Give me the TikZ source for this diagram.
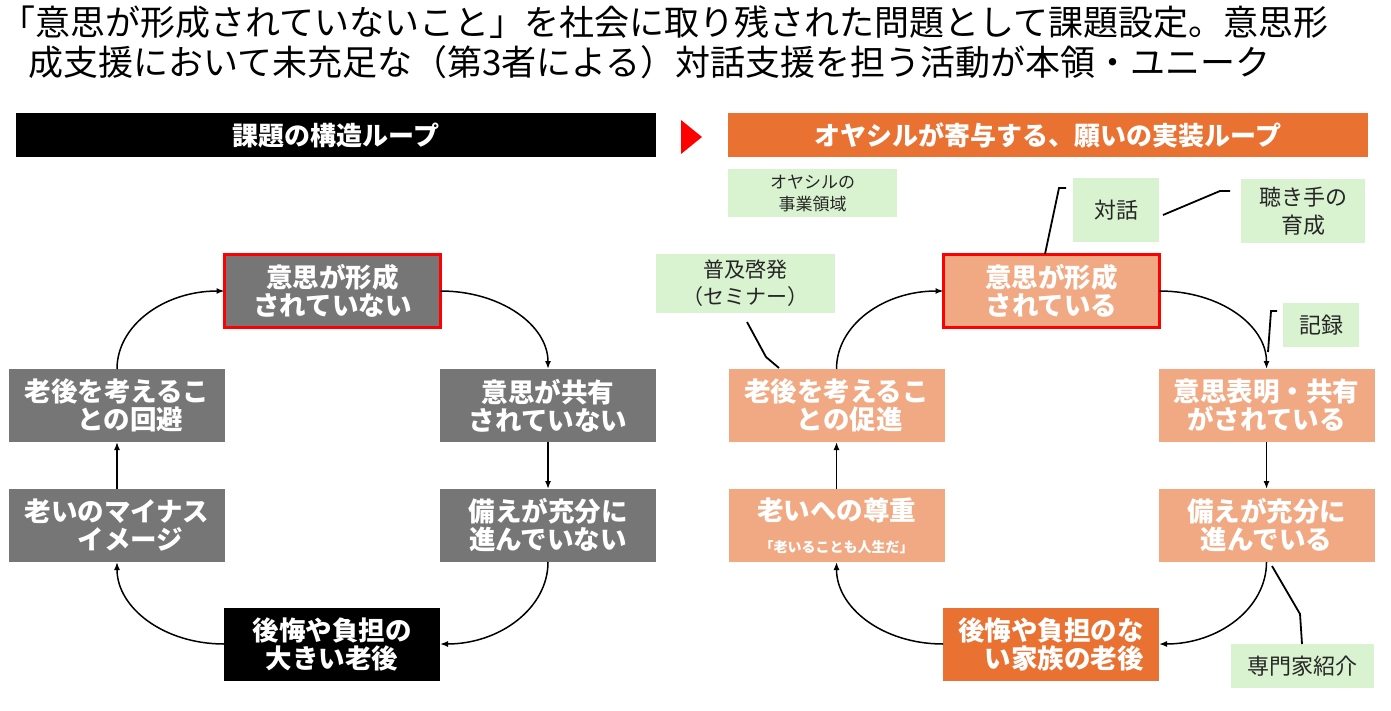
\documentclass[tikz,border=0pt]{standalone}
\usepackage{fontspec}
\setmainfont{Noto Sans CJK JP}
\usetikzlibrary{arrows.meta}

\definecolor{boxgray}{RGB}{118,118,118}
\definecolor{salmon}{RGB}{241,169,131}
\definecolor{deeporange}{RGB}{233,113,50}
\definecolor{palegreen}{RGB}{217,242,208}
\definecolor{inkgray}{RGB}{38,38,38}

\begin{document}
\begin{tikzpicture}[
  x = 1pt,
  y = -1pt,
  loopbox/.style = {
    shape = rectangle,
    minimum width = 216pt,
    minimum height = 73pt,
    inner sep = 0pt,
    outer sep = 0pt,
    align = center,
    text = white,
    font = \bfseries\fontsize{26.5}{28}\selectfont,
  },
  problem/.style = {loopbox, fill = boxgray},
  wish/.style = {loopbox, fill = salmon},
  focus/.style = {draw = red, line width = 3pt},
  header/.style = {
    minimum width = 640pt,
    minimum height = 44pt,
    inner sep = 0pt,
    text = white,
    font = \bfseries\fontsize{26}{28}\selectfont,
  },
  note/.style = {
    fill = palegreen,
    inner sep = 0pt,
    align = center,
    text = inkgray,
    font = \fontsize{22}{28}\selectfont,
  },
  title/.style = {
    anchor = base west,
    inner sep = 0pt,
    font = \fontsize{35}{40}\selectfont,
  },
  flow/.style = {
    -{Latex[length = 8pt, width = 6pt]},
    line width = 1.5pt,
  },
  callout/.style = {
    line width = 1.8pt,
  }
]
  \useasboundingbox (0, 0) rectangle (1391, 711);
  \fill[white] (0, 0) rectangle (1391, 711);

  % title
  \draw node[title] (T1) at (0, 36) {「意思が形成されていないこと」を社会に取り残された問題として課題設定。意思形};
  \draw node[title] (T2) at (28, 76) {成支援において未充足な（第3者による）対話支援を担う活動が本領・ユニーク};

  % headers
  \draw node[header, fill = black] (H1) at (336, 135.5) {課題の構造ループ};
  \draw node[header, fill = deeporange] (H2) at (1048, 135.5) {オヤシルが寄与する、願いの実装ループ};
  \fill[red] (681, 120) -- (702, 137) -- (681, 154) -- cycle;

  % problem loop
  \draw node[problem, focus] (L1) at (332.5, 291) {意思が形成\\されていない};
  \draw node[problem] (L2) at (548, 405.5) {意思が共有\\されていない};
  \draw node[problem] (L3) at (548, 525.5) {備えが充分に\\進んでいない};
  \draw node[problem, fill = black] (L4) at (332, 644) {後悔や負担の\\大きい老後};
  \draw node[problem] (L5) at (117, 525.5) {老いのマイナス\\　イメージ};
  \draw node[problem] (L6) at (117, 405.5) {老後を考えるこ\\　との回避};

  \draw[flow] (L1.east) .. controls +(60, 0) and +(0, -44) .. (L2.north);
  \draw[flow] (L2) -- (L3);
  \draw[flow] (L3.south) .. controls +(0, 46) and +(60, 0) .. (L4.east);
  \draw[flow] (L4.west) .. controls +(-60, 0) and +(0, 46) .. (L5.south);
  \draw[flow] (L5) -- (L6);
  \draw[flow] (L6.north) .. controls +(0, -44) and +(-60, 0) .. (L1.west);

  % wish loop
  \draw node[wish, focus] (R1) at (1051.5, 291) {意思が形成\\されている};
  \draw node[wish] (R2) at (1266.5, 405.5) {意思表明・共有\\がされている};
  \draw node[wish] (R3) at (1266.5, 525.5) {備えが充分に\\進んでいる};
  \draw node[wish, fill = deeporange] (R4) at (1051, 644) {後悔や負担のな\\　い家族の老後};
  \draw node[wish] (R5) at (836.5, 525.5) {老いへの尊重\\[4pt]{\fontsize{14}{14}\selectfont 「老いることも人生だ」}};
  \draw node[wish] (R6) at (836.5, 405.5) {老後を考えるこ\\　との促進};

  \draw[flow] (R1.east) .. controls +(60, 0) and +(0, -44) .. (R2.north);
  \draw[flow] (R2) -- (R3);
  \draw[flow] (R3.south) .. controls +(0, 46) and +(60, 0) .. (R4.east);
  \draw[flow] (R4.west) .. controls +(-60, 0) and +(0, 46) .. (R5.south);
  \draw[flow] (R5) -- (R6);
  \draw[flow] (R6.north) .. controls +(0, -44) and +(-60, 0) .. (R1.west);

  % activities
  \draw node[note, minimum width = 169pt, minimum height = 48pt, font = \fontsize{17}{22}\selectfont] (G0) at (812.5, 193) {オヤシルの\\事業領域};
  \draw node[note, minimum width = 86pt, minimum height = 64pt] (G1) at (1116, 210) {対話};
  \draw node[note, minimum width = 124pt, minimum height = 64pt] (G2) at (1303, 211) {聴き手の\\育成};
  \draw node[note, minimum width = 179pt, minimum height = 59pt, font = \fontsize{21}{27}\selectfont] (G3) at (745.5, 283.5) {普及啓発\\（セミナー）};
  \draw node[note, minimum width = 76pt, minimum height = 44pt] (G4) at (1321, 325) {記録};
  \draw node[note, minimum width = 143pt, minimum height = 44pt] (G5) at (1302.5, 666) {専門家紹介};

  \coordinate (c1a) at (1045, 254);
  \coordinate (c1b) at (1059, 188);
  \coordinate (c1c) at (1066, 188);
  \coordinate (c2a) at (1163, 215);
  \coordinate (c2b) at (1220, 191);
  \coordinate (c2c) at (1230, 191);
  \coordinate (c3a) at (747, 322);
  \coordinate (c3b) at (766, 357);
  \coordinate (c3c) at (779, 368);
  \coordinate (c4a) at (1268, 352);
  \coordinate (c4b) at (1271, 311);
  \coordinate (c4c) at (1277, 311);
  \coordinate (c5a) at (1272, 566);
  \coordinate (c5b) at (1300, 614);
  \coordinate (c5c) at (1302, 644);

  \draw[callout] (c1a) -- (c1b) -- (c1c);
  \draw[callout] (c2a) -- (c2b) -- (c2c);
  \draw[callout] (c3a) -- (c3b) -- (c3c);
  \draw[callout] (c4a) -- (c4b) -- (c4c);
  \draw[callout] (c5a) -- (c5b) -- (c5c);
\end{tikzpicture}
\end{document}
